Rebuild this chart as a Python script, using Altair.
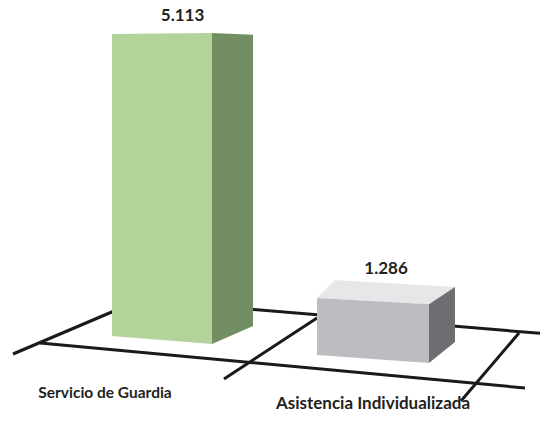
import altair as alt
import numpy as np
import pandas as pd

# ---- data ----
categories = ["Servicio de Guardia", "Asistencia Individualizada"]
values = [5.113, 1.286]
value_labels = ["5.113", "1.286"]

# ---- layout (page-pixel space, 3-D perspective look) ----
W, H = 532, 405
X0, Y0 = 8, 8
PX_PER_UNIT = 64.0
BASE_VALUE = 0.396
edge_factor = {"FL": 1.0, "FR": 1.03, "BR": 0.965, "BL": 0.965}
footprints = [
    {"FL": (112, 336), "FR": (212, 344), "BR": (253, 326), "BL": (153, 318)},
    {"FL": (317, 355), "FR": (429, 363), "BR": (455, 342), "BL": (335, 335)},
]
face_colors = [
    {"front": "#b3d39b", "side": "#738e62", "top": "#cfe3bf"},
    {"front": "#bcbdc0", "side": "#6d6e71", "top": "#e6e7e8"},
]
label_anchor = [(105, 398), (373, 409)]
label_size = [15.5, 17]
floor_segments = [
    ((13, 354), (140, 300)),
    ((40, 343), (525, 388)),
    ((140, 300), (548, 334)),
    ((224, 379), (317, 318)),
    ((461, 401), (519, 333)),
]
FONT = "Lato"

rows = []
value_rows = []
for i, (cat, v) in enumerate(zip(categories, values)):
    fp = footprints[i]
    h = PX_PER_UNIT * (v - BASE_VALUE)
    top = {k: (fp[k][0], fp[k][1] - h * edge_factor[k]) for k in fp}
    col = face_colors[i]
    # front face
    for k in ("FL", "FR"):
        rows.append(dict(face=f"{i}-front", kind="front", x=fp[k][0], y=fp[k][1], y2=top[k][1], color=col["front"]))
    # side face
    for k in ("FR", "BR"):
        rows.append(dict(face=f"{i}-side", kind="side", x=fp[k][0], y=fp[k][1], y2=top[k][1], color=col["side"]))
    # top face (only if visible: back edge higher on screen than front edge)
    if top["BR"][1] < top["FR"][1]:
        xs_ = sorted({top[k][0] for k in top})
        low_x = [top["FL"][0], top["FR"][0], top["BR"][0]]
        low_y = [top["FL"][1], top["FR"][1], top["BR"][1]]
        up_x = [top["FL"][0], top["BL"][0], top["BR"][0]]
        up_y = [top["FL"][1], top["BL"][1], top["BR"][1]]
        for xx in xs_:
            rows.append(dict(face=f"{i}-top", kind="top", x=xx,
                             y=float(np.interp(xx, low_x, low_y)),
                             y2=float(np.interp(xx, up_x, up_y)), color=col["top"]))
    ymin = min(t[1] for t in top.values())
    value_rows.append(dict(label=value_labels[i], x=(fp["FL"][0] + fp["BR"][0]) / 2, y=ymin - 6))

faces = pd.DataFrame(rows)
vals = pd.DataFrame(value_rows)
cats = pd.DataFrame(dict(label=categories, x=[a[0] for a in label_anchor],
                         y=[a[1] for a in label_anchor], fs=label_size))
floor = pd.DataFrame([dict(x=a[0], y=a[1], x2=b[0], y2=b[1]) for a, b in floor_segments])

xs = alt.Scale(domain=[X0, X0 + W], nice=False, zero=False)
ys = alt.Scale(domain=[Y0, Y0 + H], nice=False, zero=False, reverse=True)

rules = alt.Chart(floor).mark_rule(color="#1a1a1a", strokeWidth=3).encode(
    x=alt.X("x:Q", scale=xs, axis=None), x2="x2:Q",
    y=alt.Y("y:Q", scale=ys, axis=None), y2="y2:Q",
)

def face_layer(kind):
    return alt.Chart(faces[faces.kind == kind]).mark_area(opacity=1, strokeWidth=0).encode(
        x=alt.X("x:Q", scale=xs, axis=None),
        y=alt.Y("y:Q", scale=ys, axis=None, stack=None),
        y2="y2:Q",
        detail="face:N",
        color=alt.Color("color:N", scale=None, legend=None),
    )

val_text = alt.Chart(vals).mark_text(font=FONT, fontSize=17, fontWeight="bold", color="#231f20",
                                     baseline="alphabetic", align="center").encode(
    x=alt.X("x:Q", scale=xs, axis=None), y=alt.Y("y:Q", scale=ys, axis=None), text="label:N")

cat_text = alt.Chart(cats).mark_text(font=FONT, fontWeight="bold", color="#231f20",
                                     baseline="alphabetic", align="center").encode(
    x=alt.X("x:Q", scale=xs, axis=None), y=alt.Y("y:Q", scale=ys, axis=None), text="label:N",
    size=alt.Size("fs:Q", scale=None, legend=None))

chart = alt.layer(
    rules, face_layer("top"), face_layer("side"), face_layer("front"), val_text, cat_text
).properties(width=W, height=H, padding=0, autosize="none", background="white"
).configure_view(stroke=None)

chart.save("out.html", embed_options={"renderer": "svg", "actions": False})
